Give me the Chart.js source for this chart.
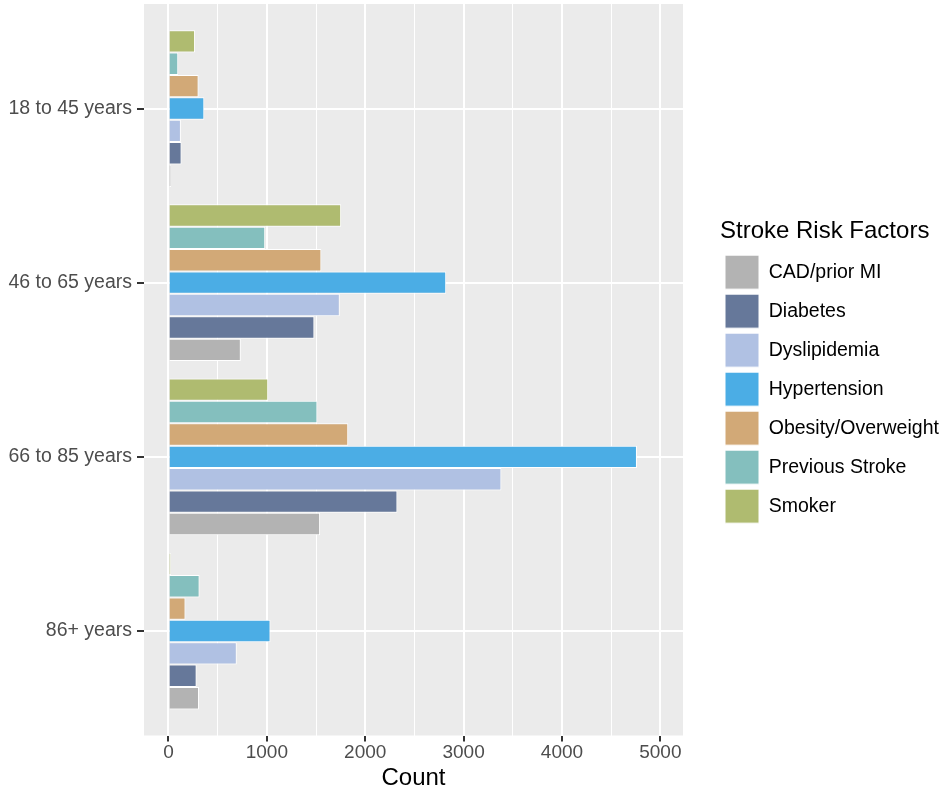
<!DOCTYPE html>
<html>
<head>
<meta charset="utf-8">
<script src="https://cdn.jsdelivr.net/npm/chart.js@4/dist/chart.umd.min.js"></script>
<style>
  html, body { margin: 0; padding: 0; background: #ffffff; }
  #wrap { width: 945px; height: 793px; }
</style>
</head>
<body>
<div id="wrap"><canvas id="c" width="945" height="793"></canvas></div>
<script>
// ---- data ----
const categories = ["18 to 45 years", "46 to 65 years", "66 to 85 years", "86+ years"];

const cadPriorMI      = [27, 735, 1541, 310];
const diabetes        = [133, 1483, 2327, 286];
const dyslipidemia    = [126, 1741, 3384, 694];
const hypertension    = [364, 2823, 4762, 1037];
const obesity         = [306, 1554, 1827, 173];
const previousStroke  = [99, 983, 1514, 316];
const smoker          = [270, 1755, 1014, 24];

const xMajorTicks = [0, 1000, 2000, 3000, 4000, 5000];
const xMinorTicks = [500, 1500, 2500, 3500, 4500];

const legendTitle = "Stroke Risk Factors";
const xTitle = "Count";

// series in drawing order (top bar of each group first)
const series = [
  { label: "Smoker",              values: smoker,         color: "#AFBB70" },
  { label: "Previous Stroke",     values: previousStroke, color: "#84BFBE" },
  { label: "Obesity/Overweight",  values: obesity,        color: "#D2A977" },
  { label: "Hypertension",        values: hypertension,   color: "#4BADE5" },
  { label: "Dyslipidemia",        values: dyslipidemia,   color: "#B0C1E3" },
  { label: "Diabetes",            values: diabetes,       color: "#66789A" },
  { label: "CAD/prior MI",        values: cadPriorMI,     color: "#B3B3B3" }
];

Chart.defaults.font.family = '"Liberation Sans", Arial, Helvetica, sans-serif';

const PANEL_RIGHT = 683;   // right edge of the grey panel
const LEGEND_LEFT = 720;   // left edge of legend content

const panelBg = {
  id: 'panelBg',
  beforeLayout(chart) {
    const lg = chart.legend;
    if (lg && !lg.__patched) {
      const orig = lg.fit;
      lg.fit = function () {
        orig.call(this);
        if (this.width) this.width = chart.width - PANEL_RIGHT;
      };
      lg.__patched = true;
    }
  },
  afterLayout(chart) {
    const lg = chart.legend;
    if (lg) {
      lg.left = LEGEND_LEFT;
      lg.width = lg.right - lg.left;
    }
  },
  beforeDraw(chart) {
    const a = chart.chartArea;
    const ctx = chart.ctx;
    ctx.save();
    ctx.fillStyle = '#EBEBEB';
    ctx.fillRect(a.left, a.top, a.right - a.left, a.bottom - a.top);
    ctx.restore();
  }
};

const allX = xMajorTicks.concat(xMinorTicks).sort((a, b) => a - b);

new Chart(document.getElementById('c'), {
  type: 'bar',
  data: {
    datasets: series.map(s => ({
      label: s.label,
      data: s.values.map((v, i) => ({ x: v, y: i })),
      backgroundColor: s.color,
      borderColor: '#FFFFFF',
      borderWidth: 1,
      borderSkipped: 'start',
      categoryPercentage: 0.9,
      barPercentage: 1.0
    }))
  },
  options: {
    indexAxis: 'y',
    responsive: false,
    animation: false,
    devicePixelRatio: 1,
    layout: { padding: { top: 4, left: 0, right: 0, bottom: 0 } },
    plugins: {
      tooltip: { enabled: false },
      legend: {
        position: 'right',
        fullSize: false,
        reverse: true,
        align: 'center',
        title: {
          display: true,
          text: legendTitle,
          position: 'start',
          color: '#000000',
          font: { size: 24 },
          padding: { top: 8, bottom: 2 }
        },
        labels: {
          boxWidth: 34,
          boxHeight: 34,
          padding: 5,
          color: '#000000',
          font: { size: 19.5 }
        }
      }
    },
    scales: {
      x: {
        type: 'linear',
        position: 'bottom',
        min: -249,
        max: 5230,
        afterBuildTicks: (scale) => { scale.ticks = allX.map(v => ({ value: v })); },
        afterFit: (scale) => {
          scale.height = 57.5;
          scale.paddingLeft = 0;
          scale.paddingRight = 0;
        },
        ticks: {
          autoSkip: false,
          maxRotation: 0,
          padding: 0,
          color: '#4D4D4D',
          font: { size: 19 },
          callback: (v) => xMajorTicks.includes(v) ? String(v) : ''
        },
        grid: {
          color: '#FFFFFF',
          lineWidth: (ctx) => (ctx.tick && xMajorTicks.includes(ctx.tick.value)) ? 2 : 1,
          tickLength: 6,
          tickColor: (ctx) => (ctx.tick && xMajorTicks.includes(ctx.tick.value)) ? '#333333' : 'rgba(0,0,0,0)',
          tickWidth: 2
        },
        border: { display: false },
        title: {
          display: true,
          text: xTitle,
          color: '#000000',
          font: { size: 24 },
          padding: 0
        }
      },
      y: {
        type: 'linear',
        position: 'left',
        reverse: true,
        offset: false,
        min: -0.6,
        max: 3.6,
        afterBuildTicks: (scale) => { scale.ticks = categories.map((c, i) => ({ value: i })); },
        afterFit: (scale) => {
          scale.width = 144;
          scale.paddingTop = 0;
          scale.paddingBottom = 0;
        },
        ticks: {
          autoSkip: false,
          padding: 5,
          color: '#4D4D4D',
          font: { size: 19.5 },
          callback: (v) => categories[v] !== undefined ? categories[v] : ''
        },
        grid: {
          offset: false,
          color: '#FFFFFF',
          lineWidth: 2,
          tickLength: 7,
          tickColor: '#333333',
          tickWidth: 2
        },
        border: { display: false }
      }
    }
  },
  plugins: [panelBg]
});
</script>
</body>
</html>
